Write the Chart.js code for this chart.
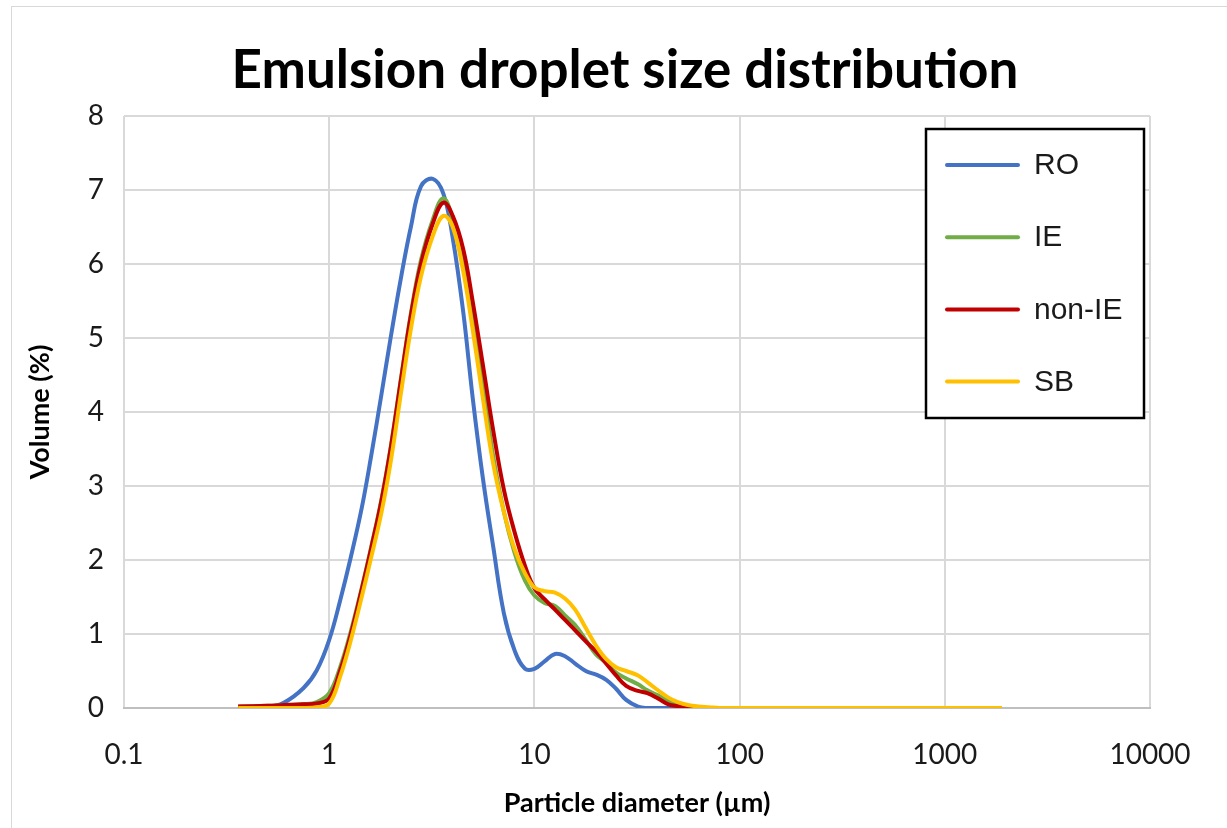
<!DOCTYPE html>
<html>
<head>
<meta charset="utf-8">
<script src="https://cdn.jsdelivr.net/npm/chart.js@4.4.1/dist/chart.umd.min.js"></script>
<style>
  html, body { margin: 0; padding: 0; background: #fff; }
  #wrap { position: relative; width: 1227px; height: 828px; overflow: hidden; }
  #frame { position: absolute; left: 11px; top: 6px; width: 1230px; height: 840px; border: 1px solid #d9d9d9; pointer-events: none; }
</style>
</head>
<body>
<div id="wrap">
  <canvas id="sizeChart" width="1227" height="828"></canvas>
  <div id="frame"></div>
</div>
<script>
// particle diameters (µm), shared by all samples
const sizes = [0.36, 0.5, 0.6, 0.75, 0.87, 1, 1.13, 1.27, 1.44, 1.6, 1.8, 2, 2.25, 2.5, 2.8, 3.2, 3.6, 4, 4.5, 5,
  5.6, 6.3, 7.1, 8, 9, 10, 11.2, 12.6, 14.1, 15.8, 17.8, 20, 22.4, 25, 28, 32, 35.5, 40, 45, 50,
  56, 63, 71, 80, 100, 200, 500, 1000, 1900];

// volume (%) per sample
const ro = [0, 0.01, 0.07, 0.27, 0.51, 0.92, 1.45, 2.02, 2.7, 3.4, 4.25, 5.03, 5.85, 6.5, 7.05, 7.15, 6.95, 6.35, 5.35, 4.2,
  3.12, 2.18, 1.28, 0.78, 0.53, 0.53, 0.63, 0.73, 0.7, 0.6, 0.5, 0.45, 0.38, 0.26, 0.11, 0.02, 0, 0, 0, 0,
  0, 0, 0, 0, 0, 0, 0, 0, 0];
const ie = [0.02, 0.03, 0.04, 0.05, 0.08, 0.2, 0.55, 1.02, 1.62, 2.17, 2.83, 3.55, 4.5, 5.33, 6.05, 6.6, 6.89, 6.6, 6.0, 5.25,
  4.4, 3.4, 2.65, 2.1, 1.72, 1.52, 1.42, 1.38, 1.25, 1.12, 0.92, 0.72, 0.61, 0.48, 0.4, 0.32, 0.24, 0.17, 0.1, 0.05,
  0.02, 0, 0, 0, 0, 0, 0, 0, 0];
const nonIe = [0.02, 0.03, 0.04, 0.05, 0.06, 0.13, 0.5, 0.98, 1.6, 2.15, 2.81, 3.53, 4.48, 5.3, 6.0, 6.55, 6.83, 6.65, 6.2, 5.5,
  4.65, 3.75, 2.95, 2.38, 1.92, 1.62, 1.47, 1.33, 1.19, 1.05, 0.9, 0.76, 0.6, 0.44, 0.3, 0.23, 0.2, 0.13, 0.05, 0.025,
  0.01, 0, 0, 0, 0, 0, 0, 0, 0];
const sb = [0, 0, 0, 0, 0.01, 0.06, 0.42, 0.9, 1.5, 2.03, 2.65, 3.35, 4.3, 5.12, 5.83, 6.38, 6.65, 6.5, 5.9, 5.12,
  4.2, 3.3, 2.65, 2.15, 1.82, 1.63, 1.58, 1.56, 1.48, 1.33, 1.08, 0.84, 0.66, 0.55, 0.5, 0.44, 0.35, 0.24, 0.14, 0.08,
  0.04, 0.02, 0.01, 0, 0, 0, 0, 0, 0];

const seriesNames = ["RO", "IE", "non-IE", "SB"];
const seriesColors = ["#4472C4", "#70AD47", "#C00000", "#FFC000"];

const xTicks = [0.1, 1, 10, 100, 1000, 10000];
const xTickLabels = ["0.1", "1", "10", "100", "1000", "10000"];

const chartTitle = "Emulsion droplet size distribution";
const gridColor = "#d9d9d9";

function toPoints(values) {
  return sizes.map((d, i) => ({ x: d, y: values[i] }));
}

// title drawn by hand so it can sit centred over the whole frame
const frameTitle = {
  id: "frameTitle",
  afterDraw(chart) {
    const c = chart.ctx;
    c.save();
    c.font = "bold 53px Lato, 'Open Sans', sans-serif";
    c.fillStyle = "#000";
    c.textAlign = "center";
    c.textBaseline = "alphabetic";
    c.fillText(chartTitle, 625, 88);
    c.restore();
  }
};

// legend drawn as a framed box inside the plot, like the Excel one
const boxLegend = {
  id: "boxLegend",
  afterDatasetsDraw(chart) {
    const c = chart.ctx;
    const area = chart.chartArea;
    const x0 = area.right - 224, y0 = area.top + 13, w = 218, h = 289;
    c.save();
    c.fillStyle = "#fff";
    c.fillRect(x0, y0, w, h);
    c.lineWidth = 2.5;
    c.strokeStyle = "#000";
    c.strokeRect(x0, y0, w, h);
    c.font = '30px "Liberation Sans", Arial, sans-serif';
    c.textBaseline = "middle";
    chart.data.datasets.forEach((ds, i) => {
      const y = y0 + 36 + i * 72.2;
      c.strokeStyle = ds.borderColor;
      c.lineWidth = 4;
      c.lineCap = "round";
      c.beginPath();
      c.moveTo(x0 + 21, y);
      c.lineTo(x0 + 92, y);
      c.stroke();
      c.fillStyle = "#1a1a1a";
      c.fillText(ds.label, x0 + 108, y + 1);
    });
    c.restore();
  }
};

const allValues = [ro, ie, nonIe, sb];

const ctx = document.getElementById("sizeChart").getContext("2d");
const sizeChart = new Chart(ctx, {
  type: "line",
  data: {
    datasets: allValues.map((vals, i) => ({
      label: seriesNames[i],
      data: toPoints(vals),
      borderColor: seriesColors[i],
      backgroundColor: seriesColors[i],
      borderWidth: 4,
      pointRadius: 0,
      fill: false,
      tension: 0.4,
      order: allValues.length - i   // later series drawn on top
    }))
  },
  options: {
    responsive: false,
    animation: false,
    layout: { padding: { left: 0, right: 77, top: 116, bottom: 0 } },
    plugins: {
      legend: { display: false },
      tooltip: { enabled: false },
      title: { display: false }
    },
    scales: {
      x: {
        type: "logarithmic",
        min: 0.1,
        max: 10000,
        afterFit(scale) { scale.height = 120; },
        afterBuildTicks(scale) { scale.ticks = xTicks.map(v => ({ value: v })); },
        ticks: {
          padding: 30,
          color: "#1a1a1a",
          font: { family: "Lato, sans-serif", size: 28 },
          maxRotation: 0,
          callback: (v) => xTickLabels[xTicks.indexOf(v)]
        },
        grid: { color: gridColor, lineWidth: 2, drawTicks: false },
        border: { display: true, color: "#bfbfbf", width: 2 },
        title: {
          display: true,
          text: "Particle diameter (µm)",
          color: "#000",
          font: { family: "Lato, sans-serif", size: 27, weight: "bold" },
          padding: { top: 0, bottom: 9 }
        }
      },
      y: {
        min: 0,
        max: 8,
        afterFit(scale) { scale.width = 124; },
        ticks: {
          stepSize: 1,
          padding: 20,
          color: "#1a1a1a",
          font: { family: "Lato, sans-serif", size: 28 }
        },
        grid: { color: gridColor, lineWidth: 2, drawTicks: false },
        border: { display: false },
        title: {
          display: true,
          text: "Volume (%)",
          color: "#000",
          font: { family: "Lato, sans-serif", size: 27, weight: "bold" },
          padding: { top: 24, bottom: 0 }
        }
      }
    }
  },
  plugins: [boxLegend, frameTitle]
});
</script>
</body>
</html>
